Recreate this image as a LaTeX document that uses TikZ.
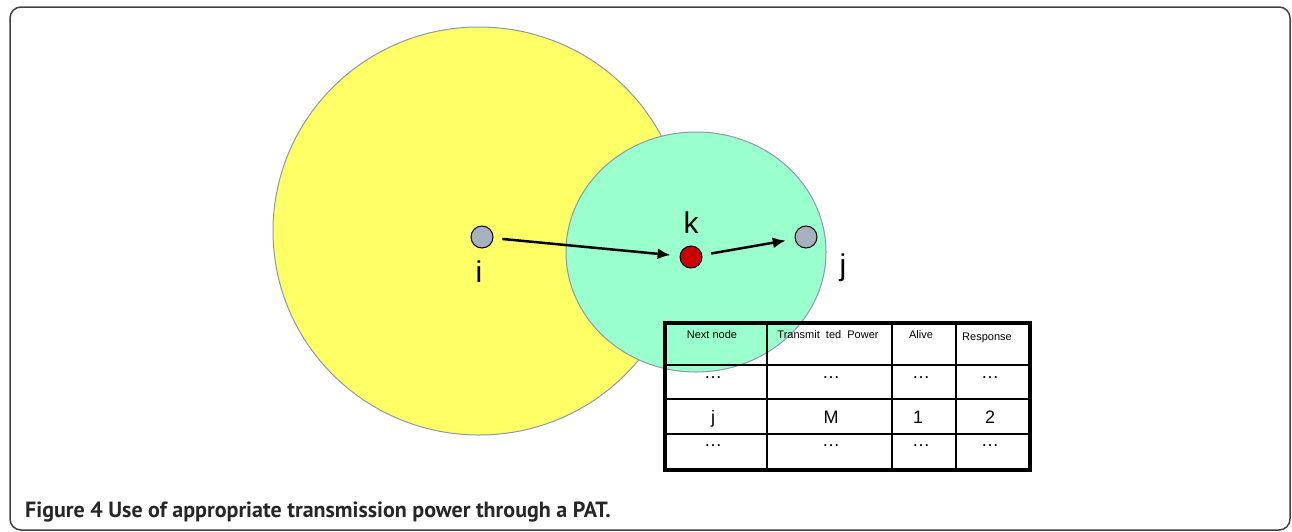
\documentclass[tikz,border=0pt]{standalone}
\usepackage{fontspec}
\setmainfont{Liberation Sans}
\newfontfamily\captionfont{PT Sans}
\usepackage{tikz}
\usetikzlibrary{arrows.meta, positioning, shapes}
\definecolor{rangeyellow}{RGB}{255,255,102}
\definecolor{rangegreen}{RGB}{153,255,204}
\definecolor{rangeedge}{RGB}{140,152,170}
\definecolor{hostgray}{RGB}{166,176,190}
\definecolor{relayred}{RGB}{204,0,0}
\tikzstyle{range_style} = [draw=rangeedge, line width=1pt]
\tikzstyle{host_style} = [circle, draw, line width=1pt, fill=hostgray, minimum size=22pt, inner sep=0pt]
\tikzstyle{relay_style} = [host_style, fill=relayred]
\tikzstyle{label_style} = [font=\fontsize{30}{30}\selectfont, inner sep=0pt]
\tikzstyle{arrow_style} = [line width=2.5pt, -{Latex[length=13pt, width=11pt]}, shorten <=9pt, shorten >=9pt]
\tikzstyle{head_style} = [font=\fontsize{11}{11}\selectfont, anchor=base, inner sep=0pt]
\tikzstyle{cell_style} = [font=\fontsize{18}{18}\selectfont, anchor=base, inner sep=0pt]

\begin{document}
\begin{tikzpicture}[x=1pt, y=-1pt]
	
	  \useasboundingbox (0,0) rectangle (1292,531);
	  % frame
	  \draw[draw=black!75, line width=1.5pt, rounded corners=11pt] (10,7) rectangle (1290,530);
	  
	  % ranges
	  \filldraw[range_style, fill=rangeyellow] (479,231) ellipse [x radius=206, y radius=204];
	  \filldraw[range_style, fill=rangegreen] (696,252) ellipse [x radius=130, y radius=120];
	  
	  % hosts
	  \node[host_style] (node_i) at (482,237) {};
	  \node[relay_style] (node_k) at (691,257) {};
	  \node[host_style] (node_j) at (806,237) {};
	  \node[label_style] (label_i) at (479,272) {i};
	  \node[label_style] (label_k) at (691,223) {k};
	  \node[label_style] (label_j) at (843,268) {j};
	  \draw[arrow_style] (node_i) -- (node_k);
	  \draw[arrow_style] (node_k) -- (node_j);
	  
	  % table
	  \draw[line width=1.6pt] (767,323) -- (767,470) (892,323) -- (892,470) (956,323) -- (956,470);
	  \draw[line width=1.6pt] (665,365) -- (1030,365) (665,399) -- (1030,399) (665,434) -- (1030,434);
	  \draw[line width=3.5pt] (665,323) rectangle (1030,470);
	  
	  \node[head_style] (head1) at (712,338) {Next node};
	  \node[head_style] (head2) at (828,338) {Transmit~ ted~ Power};
	  \node[head_style] (head3) at (921,338) {Alive};
	  \node[head_style] (head4) at (987,340) {Response};
	  
	  \node[cell_style] (cell21) at (713,378) {…};
	  \node[cell_style] (cell22) at (831,378) {…};
	  \node[cell_style] (cell23) at (921,378) {…};
	  \node[cell_style] (cell24) at (990,378) {…};
	  
	  \node[cell_style] (cell31) at (713,423) {j};
	  \node[cell_style] (cell32) at (831,423) {M};
	  \node[cell_style] (cell33) at (918,423) {1};
	  \node[cell_style] (cell34) at (990,423) {2};
	  
	  \node[cell_style] (cell41) at (713,446) {…};
	  \node[cell_style] (cell42) at (831,446) {…};
	  \node[cell_style] (cell43) at (921,446) {…};
	  \node[cell_style] (cell44) at (990,446) {…};
	  
	  % caption
	  \node[anchor=base west, inner sep=0pt, text=black!85, font=\captionfont\bfseries\fontsize{22}{22}\selectfont] (caption) at (25,517) {Figure 4 Use of appropriate transmission power through a PAT.};
	  
	  \end{tikzpicture}
\end{document}
